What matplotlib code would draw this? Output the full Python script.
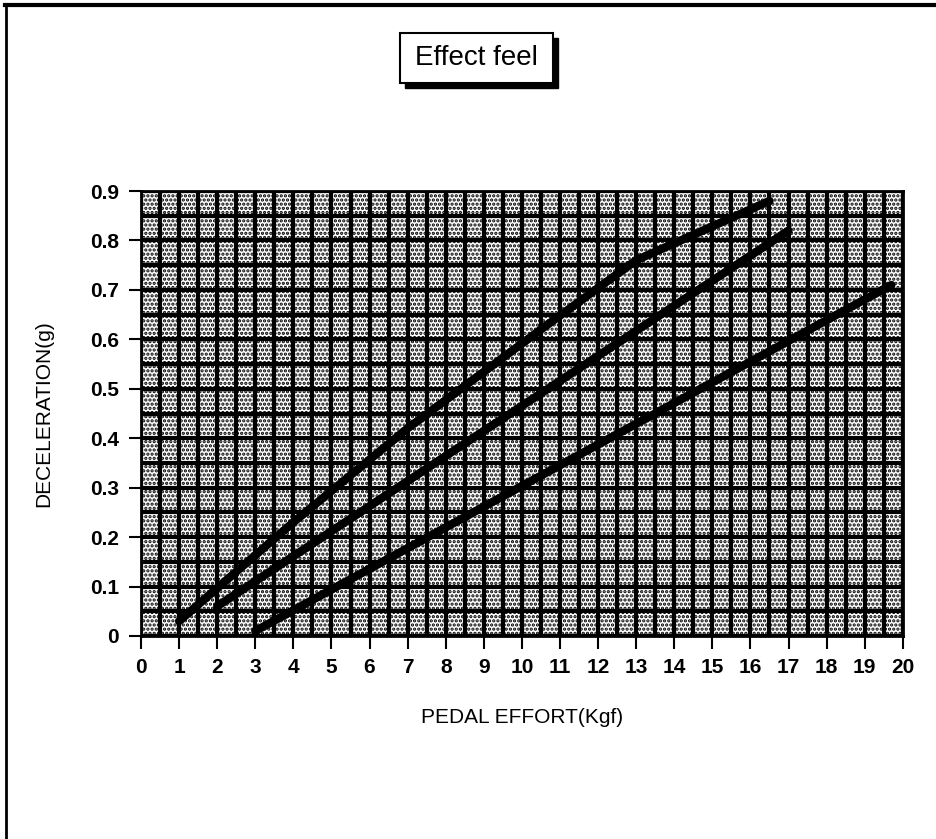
import matplotlib.pyplot as plt
import numpy as np
from matplotlib.patches import Rectangle

plt.rcParams['font.family'] = ['Liberation Sans', 'DejaVu Sans']
plt.rcParams['hatch.linewidth'] = 1.6

effort_steep = [1, 4, 7, 10.5, 13, 16.5]
decel_steep = [0.03, 0.23, 0.42, 0.62, 0.76, 0.88]

effort_mid = [2, 17]
decel_mid = [0.06, 0.82]

effort_low = [3, 19.7]
decel_low = [0.01, 0.71]

x_ticks = list(range(0, 21))
y_ticks = [0, 0.1, 0.2, 0.3, 0.4, 0.5, 0.6, 0.7, 0.8, 0.9]
y_ticklabels = ['0', '0.1', '0.2', '0.3', '0.4', '0.5', '0.6', '0.7', '0.8', '0.9']

fig = plt.figure(figsize=(9.37, 8.39), dpi=100)
ax = fig.add_axes([0.1505, 0.242, 0.813, 0.5303])

# speckled background like the scanned fill
ax.add_patch(Rectangle((0, 0), 20, 0.9, facecolor='white', edgecolor='black',
                       hatch='....', linewidth=0, zorder=0))

ax.set_xlim(0, 20)
ax.set_ylim(0, 0.9)
ax.set_xticks(np.arange(0, 20.01, 0.5), minor=True)
ax.set_yticks(np.arange(0, 0.901, 0.05), minor=True)
ax.grid(which='both', color='black', linewidth=3, zorder=1)
ax.set_axisbelow(True)

for xs, ys in [(effort_steep, decel_steep), (effort_mid, decel_mid), (effort_low, decel_low)]:
    ax.plot(xs, ys, color='black', linewidth=6, solid_capstyle='round', zorder=3)

ax.set_xticks(x_ticks)
ax.set_xticklabels([str(t) for t in x_ticks], fontsize=15, fontweight='bold')
ax.set_yticks(y_ticks)
ax.set_yticklabels(y_ticklabels, fontsize=15, fontweight='bold')
ax.tick_params(which='major', direction='out', length=9, width=1.5, pad=7)
ax.tick_params(which='minor', length=0)
for s in ax.spines.values():
    s.set_linewidth(2)

ax.set_xlabel('PEDAL EFFORT(Kgf)', fontsize=15, labelpad=22)
ax.set_ylabel('DECELERATION(g)', fontsize=15, labelpad=26)

# title box with drop shadow
fig.add_artist(Rectangle((0.432, 0.895), 0.163, 0.060, transform=fig.transFigure,
                         facecolor='black', edgecolor='black'))
fig.add_artist(Rectangle((0.427, 0.901), 0.163, 0.060, transform=fig.transFigure,
                         facecolor='white', edgecolor='black', linewidth=1.5))
fig.text(0.5085, 0.931, 'Effect feel', ha='center', va='center', fontsize=20)

# scan border on top and left
fig.add_artist(plt.Line2D([0.005, 1], [0.994, 0.994], color='black', linewidth=3,
                          transform=fig.transFigure))
fig.add_artist(plt.Line2D([0.006, 0.006], [0, 0.994], color='black', linewidth=2,
                          transform=fig.transFigure))

fig.savefig('out.png', dpi=100)
